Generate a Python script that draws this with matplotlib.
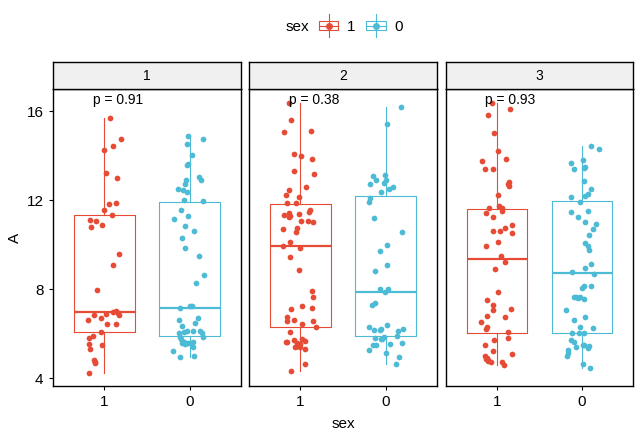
import numpy as np
import matplotlib
matplotlib.use("Agg")
import matplotlib.pyplot as plt
from matplotlib.patches import Rectangle
from matplotlib.lines import Line2D
from matplotlib.legend_handler import HandlerBase

plt.rcParams['font.family'] = ['Liberation Sans', 'DejaVu Sans']

# colours for sex = 1 / sex = 0
col1 = '#E64B35'
col0 = '#4DBBD5'

panels = ['1', '2', '3']
groups = ['1', '0']
pvals = ['p = 0.91', 'p = 0.38', 'p = 0.93']

# ---- jittered points: A values and horizontal jitter (per panel, per sex)
y1_s1 = [15.69, 14.74, 14.25, 14.44, 13.21, 12.99, 11.82, 11.87, 11.55, 11.33, 11.12, 11.06, 10.80,
         10.88, 9.59, 9.10, 7.96, 7.04, 6.98, 6.94, 6.85, 6.83, 6.89, 6.70, 6.61, 6.44, 6.43, 6.07,
         5.89, 5.81, 5.53, 5.32, 5.49, 4.83, 4.75, 4.68, 4.23]
j1_s1 = [0.06, 0.20, 0.00, 0.10, 0.02, 0.15, 0.05, 0.13, 0.00, 0.09, -0.17, -0.10, -0.16,
         -0.03, 0.17, 0.10, -0.09, 0.13, 0.10, 0.16, 0.17, -0.12, 0.02, -0.04, -0.19, 0.03, 0.14, -0.04,
         -0.13, -0.18, -0.18, -0.17, -0.03, -0.12, -0.11, -0.11, -0.18]
y1_s0 = [14.88, 14.74, 14.52, 14.02, 13.65, 13.59, 13.04, 12.92, 12.89, 12.75, 12.50, 12.47, 12.35,
         12.00, 11.97, 11.55, 11.15, 11.30, 10.83, 10.61, 10.29, 9.84, 9.48, 8.63, 8.29, 7.15, 7.25,
         7.24, 6.70, 6.62, 6.35, 6.49, 6.07, 6.13, 6.12, 6.10, 6.01, 5.87, 6.03, 5.87, 5.75, 5.65,
         5.57, 5.54, 5.57, 5.57, 5.62, 5.41, 5.21, 4.95, 4.99]
j1_s0 = [-0.02, 0.16, -0.03, 0.03, -0.02, -0.03, 0.11, 0.13, -0.04, -0.05, -0.14, -0.08, -0.03,
         -0.07, 0.16, -0.10, -0.18, -0.02, -0.05, 0.05, -0.09, -0.05, 0.11, 0.17, 0.08, -0.11, 0.00,
         0.03, 0.10, -0.13, -0.09, 0.06, -0.07, -0.03, 0.04, 0.12, 0.15, 0.16, -0.12, -0.11, -0.10, -0.07,
         -0.09, -0.05, -0.02, 0.02, 0.04, 0.04, -0.19, -0.11, 0.05]

y2_s1 = [16.36, 15.60, 15.06, 15.10, 14.07, 13.98, 13.84, 13.32, 13.17, 12.59, 12.45, 12.23, 12.14,
         11.87, 11.87, 11.55, 11.49, 11.42, 11.33, 11.24, 11.37, 11.31, 11.07, 11.01, 11.07, 10.70,
         10.74, 10.56, 10.11, 9.95, 9.84, 9.44, 8.86, 7.91, 7.64, 7.10, 7.24, 7.15, 6.73, 6.58, 6.62,
         6.43, 6.56, 6.29, 6.07, 5.65, 5.62, 5.72, 5.75, 5.68, 5.59, 5.54, 5.45, 5.42, 5.41, 5.32,
         4.65, 4.32]
j2_s1 = [-0.14, -0.11, -0.19, 0.12, -0.08, 0.01, 0.13, -0.08, 0.16, 0.06, -0.13, -0.17, -0.02,
         -0.16, -0.05, 0.11, 0.10, -0.13, -0.19, -0.14, -0.02, -0.12, 0.09, 0.15, 0.01, -0.20,
         -0.04, -0.05, -0.12, -0.20, -0.01, -0.12, -0.02, 0.14, 0.15, -0.11, 0.02, 0.13, -0.16, -0.16, -0.08,
         0.02, 0.15, 0.18, -0.12, -0.16, -0.17, -0.07, 0.02, 0.05, -0.04, -0.01, -0.04, 0.00, -0.06, 0.05,
         0.05, -0.11]
y2_s0 = [16.18, 15.42, 13.08, 13.12, 12.92, 12.72, 12.78, 12.90, 12.59, 12.50, 12.36, 12.12, 11.91,
         11.19, 10.56, 9.98, 9.71, 9.08, 8.81, 8.00, 7.88, 7.99, 7.40, 7.28, 6.29, 6.17, 6.16, 6.20,
         6.38, 6.14, 6.20, 5.89, 5.80, 5.75, 5.87, 5.57, 5.53, 5.48, 5.48, 5.75, 5.26, 5.13, 4.95, 4.63]
j2_s0 = [0.18, 0.01, -0.15, -0.01, -0.11, -0.18, -0.02, 0.00, 0.09, 0.04, -0.05, -0.18, -0.19,
         -0.14, 0.19, 0.02, -0.07, 0.02, -0.13, -0.07, -0.01, 0.03, -0.13, -0.16, -0.19, -0.14, -0.07, -0.06,
         0.02, 0.15, 0.20, 0.13, -0.13, -0.04, -0.02, 0.19, 0.05, -0.15, -0.11, -0.05, -0.20, 0.00, 0.16, 0.12]

y3_s1 = [16.36, 16.09, 15.82, 15.01, 14.20, 13.75, 13.84, 13.39, 13.39, 12.84, 12.75, 12.66, 12.23,
         11.73, 11.64, 11.64, 11.42, 11.51, 11.24, 10.88, 10.74, 10.61, 10.61, 10.52, 10.11, 9.95,
         9.48, 9.22, 8.90, 7.87, 7.51, 7.28, 7.10, 7.06, 6.79, 6.74, 6.52, 6.32, 6.20, 6.07, 5.71,
         5.80, 5.49, 5.21, 5.08, 4.99, 4.90, 4.86, 4.81, 4.72, 4.77, 4.71, 4.59]
j3_s1 = [-0.06, 0.15, -0.10, -0.03, 0.01, -0.17, 0.11, -0.14, -0.04, 0.14, 0.13, 0.14, 0.01,
         0.03, -0.09, 0.06, -0.13, 0.06, -0.04, 0.18, 0.10, -0.04, 0.04, 0.18, 0.01, -0.13,
         0.05, 0.10, -0.02, 0.01, -0.11, -0.05, 0.17, -0.05, -0.11, 0.10, -0.18, -0.11, -0.13, 0.13, -0.03,
         0.13, -0.14, -0.04, 0.18, -0.14, -0.11, -0.13, -0.10, -0.07, -0.10, 0.06, 0.08]
y3_s0 = [14.43, 14.29, 13.66, 13.80, 13.39, 13.44, 13.48, 12.86, 12.50, 12.26, 12.21, 12.14, 11.91,
         11.46, 11.51, 11.24, 11.01, 10.92, 10.70, 10.43, 10.07, 9.93, 9.75, 9.13, 8.95, 8.77, 8.68,
         8.15, 8.05, 8.14, 7.64, 7.60, 7.63, 7.67, 7.55, 7.06, 6.74, 6.61, 6.28, 6.25, 6.02, 6.02,
         6.02, 5.71, 5.62, 5.49, 5.44, 5.39, 5.50, 5.35, 5.26, 5.14, 4.99, 4.65, 4.45]
j3_s0 = [0.11, 0.20, -0.13, 0.01, -0.09, 0.02, 0.03, 0.02, 0.11, 0.07, 0.04, -0.13, -0.03,
         -0.13, 0.07, -0.05, 0.04, 0.16, 0.13, 0.08, 0.04, 0.07, 0.08, 0.10, 0.04, -0.12, 0.14,
         0.02, 0.00, 0.11, -0.07, -0.05, -0.09, -0.03, 0.02, -0.19, 0.03, -0.09, -0.03, 0.13, -0.12, -0.04,
         0.02, -0.13, -0.09, 0.02, 0.08, -0.07, 0.01, 0.07, -0.16, -0.17, -0.18, 0.01, 0.09]

# ---- box statistics: [sex 1, sex 0] per panel
whislo = [[4.23, 4.95], [4.32, 4.63], [4.59, 4.45]]
q1 = [[6.07, 5.89], [6.29, 5.89], [6.02, 6.02]]
med = [[6.99, 7.17], [9.96, 7.89], [9.36, 8.73]]
q3 = [[11.33, 11.94], [11.85, 12.21], [11.59, 11.95]]
whishi = [[15.69, 14.88], [16.36, 16.18], [16.36, 14.44]]

points = [
    [(y1_s1, j1_s1), (y1_s0, j1_s0)],
    [(y2_s1, j2_s1), (y2_s0, j2_s0)],
    [(y3_s1, j3_s1), (y3_s0, j3_s0)],
]
colors = [col1, col0]

W, H = 641, 438
fig = plt.figure(figsize=(W / 100, H / 100), dpi=100)

lefts = [53.3, 249.3, 445.7]
pw = 187.5
ptop, pbot = 89, 386
strip_h = 27

for i, lx in enumerate(lefts):
    ax = fig.add_axes([lx / W, (H - pbot) / H, pw / W, (pbot - ptop) / H])
    for g in range(2):
        stats = [dict(whislo=whislo[i][g], q1=q1[i][g], med=med[i][g],
                      q3=q3[i][g], whishi=whishi[i][g], fliers=[])]
        c = colors[g]
        ax.bxp(stats, positions=[g + 1], widths=0.71, showfliers=False,
               showcaps=False, patch_artist=False,
               boxprops=dict(color=c, linewidth=0.8),
               whiskerprops=dict(color=c, linewidth=0.8),
               medianprops=dict(color=c, linewidth=1.6))
        yv, jv = points[i][g]
        ax.scatter(np.array(jv) + g + 1, yv, s=17, color=c, linewidths=0, zorder=3)
    ax.text(0.86, 16.33, pvals[i], fontsize=10, ha='left', va='baseline', zorder=5)
    ax.set_xlim(0.4, 2.6)
    ax.set_ylim(3.65, 17.0)
    ax.set_xticks([1, 2])
    ax.set_xticklabels(groups)
    ax.set_yticks([4, 8, 12, 16])
    ax.tick_params(axis='x', length=3, width=0.8, labelsize=11, pad=3.5, color='black')
    ax.tick_params(axis='y', length=3, width=0.8, labelsize=11, pad=4, color='black')
    if i > 0:
        ax.tick_params(axis='y', left=False, labelleft=False)
    for sp in ax.spines.values():
        sp.set_linewidth(1.0)
        sp.set_color('black')

    sx = fig.add_axes([lx / W, (H - ptop) / H, pw / W, strip_h / H])
    sx.set_facecolor('#F0F0F0')
    sx.set_xticks([])
    sx.set_yticks([])
    for sp in sx.spines.values():
        sp.set_linewidth(1.0)
        sp.set_color('black')
    sx.text(0.5, 0.5, panels[i], fontsize=10, ha='center', va='center', transform=sx.transAxes)

fig.text(15 / W, 1 - 238 / H, 'A', rotation=90, ha='center', va='center', fontsize=11)
fig.text(343 / W, 1 - 428 / H, 'sex', ha='center', va='baseline', fontsize=11)


# legend glyph: small box with whiskers and a dot
class BoxGlyph(HandlerBase):
    def create_artists(self, legend, orig_handle, xdescent, ydescent, width, height, fontsize, trans):
        c = orig_handle.get_color()
        x0, y0 = -xdescent, -ydescent
        cx, cy = x0 + width / 2, y0 + height / 2
        rect = Rectangle((x0, y0), width, height, fill=False,
                         edgecolor=c, linewidth=0.8, transform=trans)
        vline = Line2D([cx, cx], [y0 - 0.65 * height, y0 + 1.65 * height], color=c,
                       linewidth=0.8, transform=trans)
        hline = Line2D([x0, x0 + width], [cy, cy], color=c, linewidth=0.8, transform=trans)
        dot = Line2D([cx], [cy], marker='o', markersize=4, color=c, linestyle='none',
                     transform=trans)
        return [rect, vline, hline, dot]


h1 = Line2D([], [], color=col1)
h0 = Line2D([], [], color=col0)
fig.text(297 / W, 1 - 27 / H, 'sex', ha='center', va='center', fontsize=11)
leg = fig.legend([h1, h0], groups, handler_map={Line2D: BoxGlyph()},
                 loc='center left', bbox_to_anchor=(319 / W, 1 - 27 / H), ncol=2,
                 frameon=False, fontsize=11, handlelength=1.25, handleheight=0.6,
                 handletextpad=0.6, columnspacing=0.7, borderpad=0, borderaxespad=0)

fig.savefig('out.png', dpi=100)
